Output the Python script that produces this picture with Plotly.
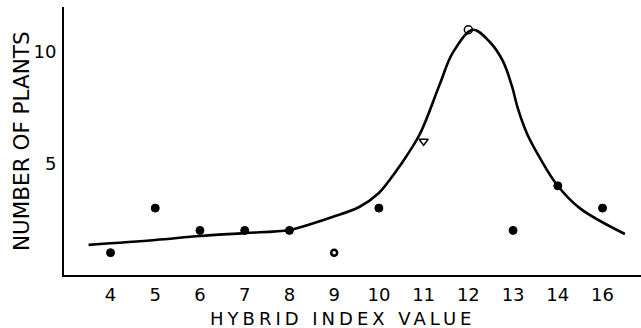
import plotly.graph_objects as go

# Categories (hybrid index values) and observed counts
categories = ["4", "5", "6", "7", "8", "9", "10", "11", "12", "13", "14", "16"]
plant_counts = [1, 3, 2, 2, 2, 1, 3, 6, 11, 2, 4, 3]

# Fitted curve (x in category-position units)
curve_x = [-0.49, 1.0, 2.0, 3.0, 4.0, 4.5, 4.96, 5.56, 6.0, 6.24, 6.45, 6.91,
           7.36, 7.65, 8.1, 8.48, 8.77, 8.97, 9.11, 9.31, 9.6,
           9.98, 10.49, 11.5]
curve_y = [1.35, 1.57, 1.75, 1.88, 2.02, 2.3, 2.6, 3.05, 3.68, 4.26, 4.84, 6.3,
           8.55, 9.96, 11.0, 10.45, 9.6, 8.5, 7.45, 6.35, 5.25,
           4.05, 3.0, 1.84]

y_tick_vals = [5, 10]
y_tick_text = ["5", "10"]

x_title = "HYBRID INDEX VALUE"
y_title = "NUMBER OF PLANTS"

# marker styles per point
point_symbols = ["circle", "circle", "circle", "circle", "circle", "circle-open",
                 "circle", "triangle-down-open", "circle-open", "circle", "circle", "circle"]
point_sizes = [8, 8, 8, 8, 8, 6, 8, 8, 8, 8, 8, 8]
point_lw = [1, 1, 1, 1, 1, 2.5, 1, 1.5, 1.5, 1, 1, 1]

positions = list(range(len(categories)))
FONT = "DejaVu Sans, Verdana, sans-serif"

fig = go.Figure()
fig.add_trace(go.Scatter(
    x=curve_x, y=curve_y, mode="lines",
    line=dict(color="black", width=2.6, shape="spline", smoothing=1.0),
    hoverinfo="skip", showlegend=False,
))
fig.add_trace(go.Scatter(
    x=positions, y=plant_counts, mode="markers",
    marker=dict(symbol=point_symbols, size=point_sizes, color="black", opacity=1,
                line=dict(color="black", width=point_lw)),
    showlegend=False,
))

fig.update_layout(
    width=641, height=328,
    margin=dict(l=64, r=0, t=7, b=53),
    paper_bgcolor="white", plot_bgcolor="white",
    font=dict(family=FONT, color="black"),
    xaxis=dict(
        range=[-1.04, 11.86], tickvals=positions, ticktext=categories,
        showgrid=False, zeroline=False, showline=True, linecolor="black",
        linewidth=2, ticks="", tickfont=dict(size=18, family=FONT),
        ticklabelstandoff=2,
    ),
    yaxis=dict(
        range=[0, 12.02], tickvals=y_tick_vals, ticktext=y_tick_text,
        showgrid=False, zeroline=False, showline=True, linecolor="black",
        linewidth=2, ticks="", tickfont=dict(size=18, family=FONT),
        ticklabelstandoff=2,
    ),
    annotations=[
        dict(text=x_title, xref="paper", yref="paper",
             x=(343 - 64) / 577, y=-(318 - 275) / 268, xanchor="center", yanchor="middle",
             showarrow=False, font=dict(size=18, family=FONT)),
        dict(text=y_title, xref="paper", yref="paper",
             x=-(64 - 21) / 577, y=(275 - 141) / 268, xanchor="center", yanchor="middle",
             textangle=-90, showarrow=False, font=dict(size=21.5, family=FONT)),
    ],
)

post = """
document.body.style.margin = '0';
document.body.style.padding = '0';
var anns = document.querySelectorAll('.annotation-text');
anns.forEach(function(t){
  if (t.textContent === 'HYBRID INDEX VALUE') { t.style.letterSpacing = '4px'; }
});
"""

fig.write_html("out.html", post_script=post, config={"displayModeBar": False})
